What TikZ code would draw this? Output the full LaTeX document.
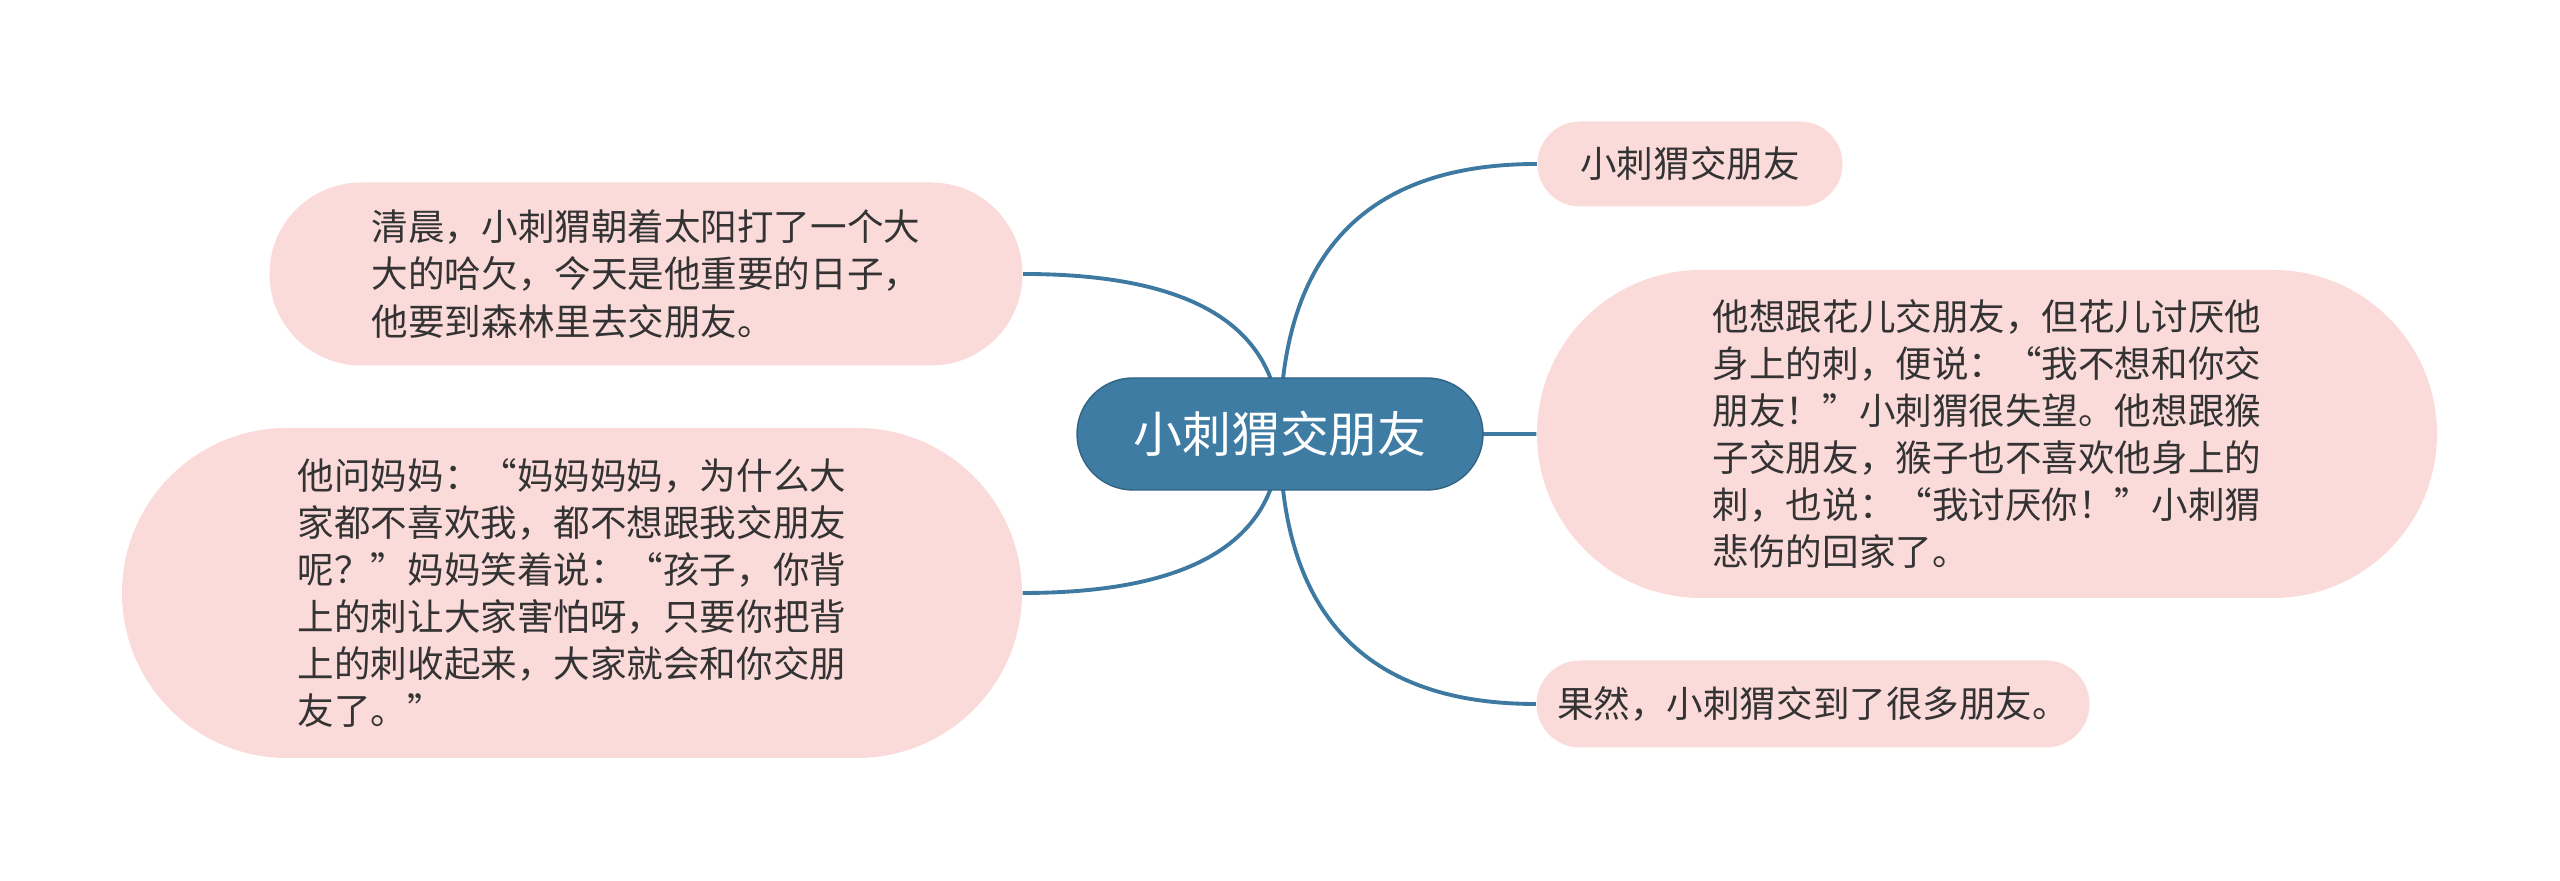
\documentclass[tikz,border=0pt]{standalone}
\usepackage{fontspec}
\setmainfont{Noto Sans CJK SC}
\usepackage{xcolor}
\usepackage{tikz}
\usetikzlibrary{shapes.misc,backgrounds,calc}

\definecolor{hubblue}{HTML}{3E7CA4}
\definecolor{linkblue}{HTML}{3D79A0}
\definecolor{leafpink}{HTML}{FBDADA}
\definecolor{leaftext}{HTML}{333333}

\begin{document}
\begin{tikzpicture}[
  topic/.style={rounded rectangle,fill=hubblue,draw=hubblue!80!black,line width=0.4pt,
                text=white,inner sep=0pt,font=\fontsize{13.9pt}{16pt}\selectfont},
  leaf/.style={rounded rectangle,fill=leafpink,inner sep=0pt,align=left,
               text=leaftext,font=\fontsize{10.4pt}{13.4pt}\selectfont},
  link/.style={draw=linkblue,line width=1.1pt,
               to path={.. controls ($(\tikztostart)!0.667!(\tikztostart |- \tikztotarget)$)
                 and ($(\tikztotarget)!0.667!(\tikztostart |- \tikztotarget)$) .. (\tikztotarget)}}
]
\useasboundingbox (0,0) rectangle (25.6,8.81);

\node[topic,minimum width=40.6mm,minimum height=11.2mm] (hub) at (12.80,4.47) {小刺猬交朋友};

\node[leaf,minimum width=30.5mm,minimum height=8.5mm] (title) at (16.90,7.17) {小刺猬交朋友};
\node[leaf,minimum width=90mm,minimum height=32.8mm] (flower) at (19.87,4.47)
  {他想跟花儿交朋友，但花儿讨厌他\\身上的刺，便说：“我不想和你交\\朋友！”小刺猬很失望。他想跟猴\\子交朋友，猴子也不喜欢他身上的\\刺，也说：“我讨厌你！”小刺猬\\悲伤的回家了。};
\node[leaf,minimum width=55.3mm,minimum height=8.7mm] (friends) at (18.13,1.77) {果然，小刺猬交到了很多朋友。};

\node[leaf,minimum width=75.3mm,minimum height=18.3mm] (morning) at (6.46,6.07)
  {清晨，小刺猬朝着太阳打了一个大\\大的哈欠，今天是他重要的日子，\\他要到森林里去交朋友。};
\node[leaf,minimum width=90mm,minimum height=33mm] (mother) at (5.72,2.88)
  {他问妈妈：“妈妈妈妈，为什么大\\家都不喜欢我，都不想跟我交朋友\\呢？”妈妈笑着说：“孩子，你背\\上的刺让大家害怕呀，只要你把背\\上的刺收起来，大家就会和你交朋\\友了。”};

\begin{scope}[on background layer]
\draw[link] (hub.center) to (title.west);
\draw[link] (hub.center) to (flower.west);
\draw[link] (hub.center) to (friends.west);
\draw[link] (hub.center) to (morning.east);
\draw[link] (hub.center) to (mother.east);
\end{scope}
\end{tikzpicture}
\end{document}
